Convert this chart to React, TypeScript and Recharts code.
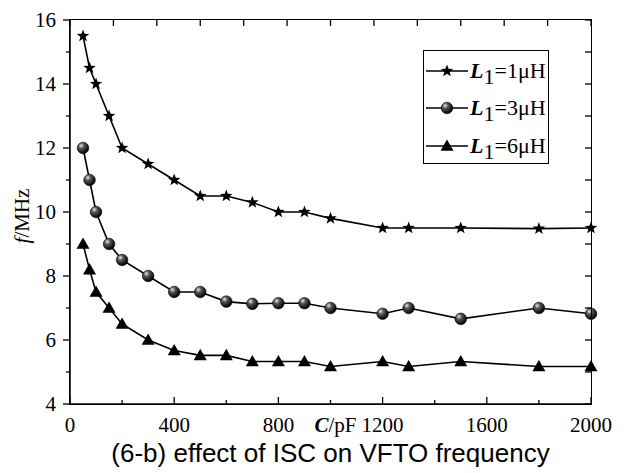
import React from 'react';
import { LineChart, Line, XAxis, YAxis, Label } from 'recharts';

// C in pF
const capacitance = [50, 75, 100, 150, 200, 300, 400, 500, 600, 700, 800, 900, 1000, 1200, 1300, 1500, 1800, 2000];
// f in MHz for each inductance
const freqL1 = [15.5, 14.5, 14, 13, 12, 11.5, 11, 10.5, 10.5, 10.3, 10, 10, 9.8, 9.5, 9.5, 9.5, 9.48, 9.5];
const freqL3 = [12, 11, 10, 9, 8.5, 8, 7.5, 7.5, 7.2, 7.13, 7.15, 7.15, 7.0, 6.82, 7.0, 6.66, 7.0, 6.82];
const freqL6 = [9, 8.2, 7.5, 7, 6.5, 6, 5.67, 5.52, 5.52, 5.33, 5.33, 5.33, 5.17, 5.33, 5.17, 5.33, 5.17, 5.17];

const seriesNames = ['1μH', '3μH', '6μH'];
const xDomain = [0, 2000];
const yDomain = [4, 16];
const xTicks = [0, 200, 400, 600, 800, 1000, 1200, 1400, 1600, 1800, 2000];
const xLabels = [0, 400, 800, 1200, 1600, 2000];
const yTicks = [4, 5, 6, 7, 8, 9, 10, 11, 12, 13, 14, 15, 16];
// the top edge of the frame has its own 12-step ticks
const topTicks = [0, 1, 2, 3, 4, 5, 6, 7, 8, 9, 10, 11, 12].map((i) => (i * 2000) / 12);
const title = '(6-b)  effect of ISC on VFTO frequency';

const data = capacitance.map((c, i) => ({ c, l1: freqL1[i], l3: freqL3[i], l6: freqL6[i] }));

const W = 633;
const H = 473;
const margin = { top: 20, right: 42, bottom: 9, left: 10 };
const X_AXIS_H = 60;
const Y_AXIS_W = 60;
const PLOT_X = margin.left + Y_AXIS_W;
const PLOT_Y = margin.top;
const PLOT_W = W - margin.left - margin.right - Y_AXIS_W;
const PLOT_H = H - margin.top - margin.bottom - X_AXIS_H;

// frame positions only (the data itself goes through recharts)
const fx = (v: number) => PLOT_X + ((v - xDomain[0]) / (xDomain[1] - xDomain[0])) * PLOT_W;
const fy = (v: number) => PLOT_Y + PLOT_H - ((v - yDomain[0]) / (yDomain[1] - yDomain[0])) * PLOT_H;

const serif = '"Liberation Serif", "Times New Roman", serif';
const tickFont = { fontFamily: serif, fontSize: 21, fill: '#000' };

function starPath(cx: number, cy: number, R: number, r: number) {
  let d = '';
  for (let i = 0; i < 10; i++) {
    const rad = i % 2 === 0 ? R : r;
    const a = -Math.PI / 2 + (i * Math.PI) / 5;
    d += (i === 0 ? 'M' : 'L') + (cx + rad * Math.cos(a)).toFixed(2) + ',' + (cy + rad * Math.sin(a)).toFixed(2);
  }
  return d + 'Z';
}

function Marker({ shape, cx, cy }: { shape: string; cx: number; cy: number }) {
  if (shape === 'star') return <path d={starPath(cx, cy, 6.6, 2.7)} fill="#000" />;
  if (shape === 'ball')
    return <circle cx={cx} cy={cy} r={5.8} fill="url(#ballGrad)" stroke="#000" strokeWidth={0.6} />;
  return <path d={`M${cx},${cy - 6.5}L${cx + 6.5},${cy + 4.8}L${cx - 6.5},${cy + 4.8}Z`} fill="#000" />;
}

const shapes = ['star', 'ball', 'tri'];

const renderDot = (shape: string) => (props: any) => {
  const { cx, cy, index } = props;
  return (
    <g key={`${shape}-${index}`}>
      <Marker shape={shape} cx={cx} cy={cy} />
    </g>
  );
};

const near = (list: number[], v: number) => list.some((t) => Math.abs(t - v) < 1e-6);

function BottomTick(props: any) {
  const { x, y, payload } = props;
  const v = Number(payload.value);
  // the first label is drawn with the frame
  if (!near(xLabels, v) || v === xLabels[0]) return <g />;
  return (
    <text x={x} y={y + 28} textAnchor="middle" style={tickFont}>
      {String(v)}
    </text>
  );
}

function LeftTick({ x, y, payload }: any) {
  if (payload.value % 2 !== 0) return <g />;
  return (
    <text x={x - 14} y={y + 7} textAnchor="end" style={tickFont}>
      {payload.value}
    </text>
  );
}

function Frame() {
  const s = { stroke: '#000', strokeWidth: 1.3 };
  const bottom = PLOT_Y + PLOT_H;
  const right = PLOT_X + PLOT_W;
  return (
    <>
      <div
        style={{
          position: 'absolute',
          left: PLOT_X - 0.75,
          top: PLOT_Y - 0.75,
          width: PLOT_W + 1.5,
          height: PLOT_H + 1.5,
          border: '1.5px solid #000',
          boxSizing: 'border-box',
          pointerEvents: 'none',
        }}
      />
      <svg width={W} height={H} style={{ position: 'absolute', left: 0, top: 0, pointerEvents: 'none' }}>
        {xTicks.map((t) => (
          <line key={`b${t}`} x1={fx(t)} x2={fx(t)} y1={bottom} y2={bottom - (near(xLabels, t) ? 7 : 4)} {...s} />
        ))}
        {topTicks.map((t, i) => (
          <line key={`t${i}`} x1={fx(t)} x2={fx(t)} y1={PLOT_Y} y2={PLOT_Y + 6} {...s} />
        ))}
        {yTicks.map((t) => (
          <g key={`y${t}`}>
            <line x1={PLOT_X} x2={PLOT_X - (t % 2 === 0 ? 7 : 4)} y1={fy(t)} y2={fy(t)} {...s} />
            <line x1={right} x2={right - 6} y1={fy(t)} y2={fy(t)} {...s} />
          </g>
        ))}
        <text x={fx(xLabels[0])} y={bottom + 28} textAnchor="middle" style={tickFont}>
          {String(xLabels[0])}
        </text>
      </svg>
    </>
  );
}

function LegendBox() {
  return (
    <div
      style={{
        position: 'absolute',
        left: 423,
        top: 50,
        border: '1.3px solid #000',
        background: '#fff',
        width: 126,
        height: 114,
        boxSizing: 'border-box',
        paddingTop: 1,
      }}
    >
      {seriesNames.map((name, i) => (
        <div key={name} style={{ display: 'flex', alignItems: 'center', height: 37.5 }}>
          <svg width={46} height={24} style={{ flex: 'none' }}>
            <line x1={2} x2={44} y1={12} y2={12} stroke="#000" strokeWidth={1.6} />
            <Marker shape={shapes[i]} cx={23} cy={12} />
          </svg>
          <span style={{ fontFamily: serif, fontSize: 22, lineHeight: 1, whiteSpace: 'nowrap' }}>
            <b>
              <i>L</i>
            </b>
            <span style={{ position: 'relative', top: 6 }}>1</span>={name}
          </span>
        </div>
      ))}
    </div>
  );
}

export default function App() {
  return (
    <div style={{ position: 'absolute', left: 0, top: 0, width: W, height: H, background: '#fff' }}>
      <svg width={0} height={0} style={{ position: 'absolute' }}>
        <defs>
          <radialGradient id="ballGrad" cx="35%" cy="30%" r="70%">
            <stop offset="0%" stopColor="#e8e8e8" />
            <stop offset="35%" stopColor="#555" />
            <stop offset="100%" stopColor="#000" />
          </radialGradient>
        </defs>
      </svg>
      <LineChart width={W} height={H} data={data} margin={margin}>
        <XAxis
          dataKey="c"
          type="number"
          domain={xDomain}
          ticks={xTicks}
          interval={0}
          height={X_AXIS_H}
          tickSize={0}
          tickMargin={0}
          tickLine={false}
          axisLine={{ stroke: '#000', strokeWidth: 1.5 }}
          tick={BottomTick}
        >
          <Label
            content={(props: any) => {
              const vb = props.viewBox;
              const cx = vb.x + vb.width / 2;
              return (
                <g>
                  <text x={cx + 5} y={vb.y + 28} textAnchor="middle" style={tickFont}>
                    <tspan fontWeight="bold" fontStyle="italic">
                      C
                    </tspan>
                    /pF
                  </text>
                  <text
                    x={cx}
                    y={vb.y + 58}
                    textAnchor="middle"
                    style={{ fontFamily: '"Liberation Sans", Arial, sans-serif', fontSize: 26, fill: '#000' }}
                  >
                    {title}
                  </text>
                </g>
              );
            }}
          />
        </XAxis>
        <YAxis
          type="number"
          domain={yDomain}
          ticks={yTicks}
          interval={0}
          width={Y_AXIS_W}
          tickSize={0}
          tickMargin={0}
          tickLine={false}
          axisLine={{ stroke: '#000', strokeWidth: 1.5 }}
          tick={LeftTick}
        >
          <Label
            content={(props: any) => {
              const vb = props.viewBox;
              const x = vb.x + 19;
              const y = vb.y + vb.height / 2 + 4;
              return (
                <text
                  x={x}
                  y={y}
                  textAnchor="middle"
                  transform={`rotate(-90 ${x} ${y})`}
                  style={{ fontFamily: serif, fontSize: 21, fill: '#000' }}
                >
                  <tspan fontStyle="italic">f</tspan>/MHz
                </text>
              );
            }}
          />
        </YAxis>
        <Line dataKey="l1" name={seriesNames[0]} stroke="#000" strokeWidth={1.6} dot={renderDot('star')} isAnimationActive={false} />
        <Line dataKey="l3" name={seriesNames[1]} stroke="#000" strokeWidth={1.6} dot={renderDot('ball')} isAnimationActive={false} />
        <Line dataKey="l6" name={seriesNames[2]} stroke="#000" strokeWidth={1.6} dot={renderDot('tri')} isAnimationActive={false} />
      </LineChart>
      <Frame />
      <LegendBox />
    </div>
  );
}
